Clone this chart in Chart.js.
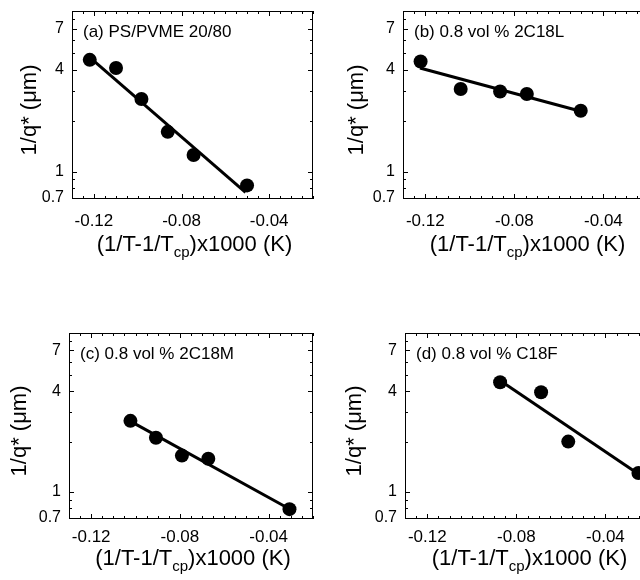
<!DOCTYPE html>
<html>
<head>
<meta charset="utf-8">
<script src="https://cdn.jsdelivr.net/npm/chart.js@4.4.0/dist/chart.umd.min.js"></script>
<style>
html, body { margin: 0; padding: 0; background: #fff; width: 640px; height: 580px; overflow: hidden; }
body { position: relative; }
canvas { position: absolute; }
</style>
</head>
<body>
<canvas id="pa" style="left:0px;top:0px"></canvas>
<canvas id="pb" style="left:320px;top:0px"></canvas>
<canvas id="pc" style="left:0px;top:300px"></canvas>
<canvas id="pd" style="left:320px;top:300px"></canvas>
<script>
// ---------- data ----------
const panelLabels = ['(a) PS/PVME 20/80', '(b) 0.8 vol % 2C18L', '(c) 0.8 vol % 2C18M', '(d) 0.8 vol % C18F'];

const aX = [-0.1219, -0.1099, -0.0983, -0.0863, -0.0745, -0.0501];
const aY = [4.58, 4.10, 2.69, 1.72, 1.255, 0.83];
const aFitX = [-0.1219, -0.0508];
const aFitY = [4.73, 0.755];

const bX = [-0.1221, -0.1041, -0.0864, -0.0744, -0.0502];
const bY = [4.48, 3.08, 2.98, 2.88, 2.29];
const bFitX = [-0.1224, -0.0498];
const bFitY = [4.10, 2.27];

const cX = [-0.1023, -0.0908, -0.0791, -0.0672, -0.0306];
const cY = [2.66, 2.11, 1.65, 1.58, 0.79];
const cFitX = [-0.1020, -0.0322];
const cFitY = [2.63, 0.814];

const dX = [-0.0873, -0.0689, -0.0567, -0.0252];
const dY = [4.52, 3.94, 2.00, 1.30];
const dFitX = [-0.0865, -0.0252];
const dFitY = [4.55, 1.28];

const xTickValues = [-0.12, -0.08, -0.04];
const xTickLabels = ['-0.12', '-0.08', '-0.04'];
const yTickValues = [0.7, 1, 4, 7];
const yTickLabels = ['0.7', '1', '4', '7'];
const yMinorValues = [0.8, 0.9, 2, 3, 5, 6, 8];
const xRange = [-0.13, -0.02];
const yRange = [0.69, 8.9];

const yTitle = '1/q* (\u03bcm)';
const xTitleParts = ['(1/T-1/T', 'cp', ')x1000 (K)'];

// ---------- layout / style ----------
const FONT = '"Liberation Sans", Arial, Helvetica, sans-serif';
Chart.defaults.color = '#000';
Chart.defaults.font.family = FONT;

const layouts = [
  { id: 'pa', W: 320, H: 300, area: { left: 72, top: 11, right: 317, bottom: 199 }, xPad: 12, xTitleDy: 52, yTitleDx: 42 },
  { id: 'pb', W: 340, H: 300, area: { left: 83, top: 11, right: 328, bottom: 199 }, xPad: 12, xTitleDy: 52, yTitleDx: 46 },
  { id: 'pc', W: 320, H: 280, area: { left: 69, top: 33, right: 316, bottom: 219 }, xPad: 8, xTitleDy: 46, yTitleDx: 49 },
  { id: 'pd', W: 340, H: 280, area: { left: 85, top: 33, right: 330, bottom: 219 }, xPad: 8, xTitleDy: 46, yTitleDx: 50 }
];

function pts(xs, ys) { return xs.map((v, i) => ({ x: v, y: ys[i] })); }

const framePlugin = {
  id: 'frame',
  afterDatasetsDraw(chart) {
    const o = chart.options.plugins.frame;
    const { ctx, chartArea: a } = chart;
    const x = chart.scales.x, y = chart.scales.y;
    ctx.save();
    ctx.strokeStyle = '#000';
    ctx.lineWidth = 1;
    ctx.strokeRect(a.left + 0.5, a.top + 0.5, a.right - a.left - 1, a.bottom - a.top - 1);
    ctx.beginPath();
    // x ticks, inward on bottom and top
    for (let i = -26; i <= -4; i++) {
      const px = Math.round(x.getPixelForValue(i * 0.005)) + 0.5;
      const L = (i % 8 === 0) ? 5 : 3;
      ctx.moveTo(px, a.bottom); ctx.lineTo(px, a.bottom - L);
      ctx.moveTo(px, a.top); ctx.lineTo(px, a.top + L);
    }
    // y ticks, inward on left and right
    const yAll = yTickValues.map(v => [v, 5]).concat(yMinorValues.map(v => [v, 3]));
    for (const [v, L] of yAll) {
      const py = Math.round(y.getPixelForValue(v)) + 0.5;
      ctx.moveTo(a.left, py); ctx.lineTo(a.left + L, py);
      ctx.moveTo(a.right, py); ctx.lineTo(a.right - L, py);
    }
    ctx.stroke();

    ctx.fillStyle = '#000';
    // panel label
    ctx.font = '17px ' + FONT;
    ctx.textAlign = 'left';
    ctx.textBaseline = 'middle';
    ctx.fillText(o.label, a.left + 11, a.top + 21);

    // y title
    ctx.save();
    ctx.translate(a.left - o.yTitleDx, (a.top + a.bottom) / 2 + 5);
    ctx.rotate(-Math.PI / 2);
    ctx.font = '22px ' + FONT;
    ctx.textAlign = 'center';
    ctx.textBaseline = 'middle';
    ctx.fillText(yTitle, 0, 0);
    ctx.restore();

    // x title with subscript
    const mainF = '22px ' + FONT, subF = '15px ' + FONT;
    ctx.font = mainF; const w0 = ctx.measureText(xTitleParts[0]).width;
    ctx.font = subF; const w1 = ctx.measureText(xTitleParts[1]).width;
    ctx.font = mainF; const w2 = ctx.measureText(xTitleParts[2]).width;
    let sx = (a.left + a.right) / 2 + 2 - (w0 + w1 + w2) / 2;
    const by = a.bottom + o.xTitleDy;
    ctx.textAlign = 'left';
    ctx.textBaseline = 'alphabetic';
    ctx.font = mainF; ctx.fillText(xTitleParts[0], sx, by); sx += w0;
    ctx.font = subF; ctx.fillText(xTitleParts[1], sx, by + 6); sx += w1;
    ctx.font = mainF; ctx.fillText(xTitleParts[2], sx, by);
    ctx.restore();
  }
};

const series = [
  [aX, aY, aFitX, aFitY],
  [bX, bY, bFitX, bFitY],
  [cX, cY, cFitX, cFitY],
  [dX, dY, dFitX, dFitY]
];

function zeroPad(s) { s.paddingTop = 0; s.paddingBottom = 0; s.paddingLeft = 0; s.paddingRight = 0; }

layouts.forEach((L, k) => {
  const cv = document.getElementById(L.id);
  cv.width = L.W; cv.height = L.H;
  const [sx, sy, fx, fy] = series[k];
  new Chart(cv.getContext('2d'), {
    type: 'scatter',
    data: {
      datasets: [
        { data: pts(sx, sy), pointRadius: 7, pointHoverRadius: 7, backgroundColor: '#000', borderColor: '#000', borderWidth: 0, showLine: false, clip: false, order: 1 },
        { data: pts(fx, fy), showLine: true, borderColor: '#000', borderWidth: 3, pointRadius: 0, fill: false, clip: false, order: 2 }
      ]
    },
    options: {
      responsive: false,
      animation: false,
      devicePixelRatio: 1,
      layout: { padding: { left: 0, top: L.area.top, right: L.W - L.area.right, bottom: 0 } },
      plugins: {
        legend: { display: false },
        tooltip: { enabled: false },
        frame: { label: panelLabels[k], xTitleDy: L.xTitleDy, yTitleDx: L.yTitleDx }
      },
      scales: {
        x: {
          type: 'linear', position: 'bottom', min: xRange[0], max: xRange[1],
          grid: { display: false, drawTicks: false },
          border: { display: false },
          ticks: { padding: L.xPad, font: { size: 17, family: FONT }, color: '#000', maxRotation: 0,
                   callback: (v) => { const i = xTickValues.findIndex(t => Math.abs(t - v) < 1e-9); return i >= 0 ? xTickLabels[i] : ''; } },
          afterBuildTicks: (s) => { s.ticks = xTickValues.map(v => ({ value: v })); },
          afterFit: (s) => { s.height = L.H - L.area.bottom; zeroPad(s); }
        },
        y: {
          type: 'logarithmic', position: 'left', min: yRange[0], max: yRange[1],
          grid: { display: false, drawTicks: false },
          border: { display: false },
          ticks: { padding: 8, font: { size: 16, family: FONT }, color: '#000',
                   callback: (v) => { const i = yTickValues.findIndex(t => Math.abs(t - v) < 1e-9); return i >= 0 ? yTickLabels[i] : ''; } },
          afterBuildTicks: (s) => { s.ticks = yTickValues.map(v => ({ value: v })); },
          afterFit: (s) => { s.width = L.area.left; zeroPad(s); }
        }
      }
    },
    plugins: [framePlugin]
  });
});
</script>
</body>
</html>
